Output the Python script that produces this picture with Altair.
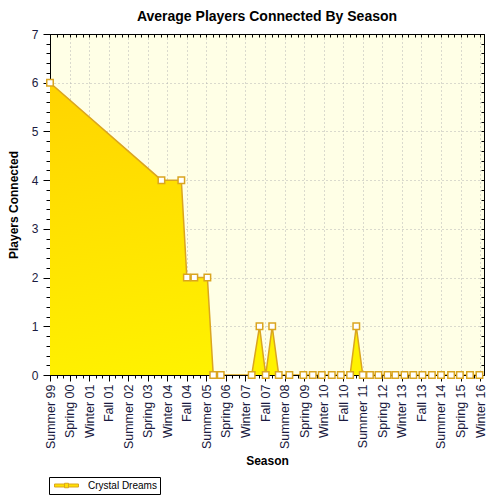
import altair as alt
import pandas as pd

# ---- data ----
season_labels = ["Summer 99", "Spring 00", "Winter 01", "Fall 01", "Summer 02", "Spring 03",
                 "Winter 04", "Fall 04", "Summer 05", "Spring 06", "Winter 07", "Fall 07",
                 "Summer 08", "Spring 09", "Winter 10", "Fall 10", "Summer 11", "Spring 12",
                 "Winter 13", "Fall 13", "Summer 14", "Spring 15", "Winter 16"]
# position of each sample, in seasons since Summer 99
season_pos = [0, 17.1, 20.15, 21.0, 22.15, 24.15, 25.05, 26.2, 30.95, 32.15, 33.1, 34.1, 35.1,
              36.73, 38.88, 40.32, 41.7, 43.24, 44.62, 46.05, 47.0, 48.0, 49.1, 50.4, 51.8,
              53.0, 54.4, 55.75, 57.15, 58.6, 60.0, 61.55, 62.9, 64.45, 65.9]
players = [6, 4, 4, 2, 2, 2, 0, 0, 0, 1, 0, 1, 0,
           0, 0, 0, 0, 0, 0, 0, 1, 0, 0, 0, 0,
           0, 0, 0, 0, 0, 0, 0, 0, 0, 0]
series_name = "Crystal Dreams"

df = pd.DataFrame({"season": season_pos, "players": players, "series": series_name})

label_array = "[" + ",".join("'" + s + "'" for s in season_labels) + "]"
x_label_expr = "datum.value % 3 === 0 ? " + label_array + "[datum.value / 3] : ''"
x_ticks = list(range(0, 3 * len(season_labels) - 2))
y_ticks = [round(i * 0.2, 1) for i in range(0, 36)]
Y_MAJOR = "abs(datum.value - round(datum.value)) < 0.001"
X_MAJOR = "datum.value % 3 === 0"

GOLD_LINE = "#DAA520"
LABEL_COLOR = "#1a1a40"
FONT = "Liberation Sans"
GRID = "#b4b4b4"
x_scale = alt.Scale(domain=[0, 66.6], nice=False, zero=False)
y_scale = alt.Scale(domain=[0, 7], nice=False)

x_enc = alt.X(
    "season:Q", scale=x_scale,
    axis=alt.Axis(
        title="Season", values=x_ticks, tickCount=500, labelExpr=x_label_expr, labelAngle=270,
        labelAlign="right", labelBaseline="middle", labelOverlap=False, labelFlush=False,
        labelPadding=3, labelFontSize=12.5, labelFont=FONT, labelColor=LABEL_COLOR,
        titleFont=FONT, titleFontSize=12, titleFontWeight="bold", titleColor="black",
        titlePadding=7,
        tickSize={"condition": {"test": X_MAJOR, "value": 6}, "value": 3},
        gridOpacity={"condition": {"test": X_MAJOR, "value": 1}, "value": 0},
        grid=True, gridColor=GRID, gridDash=[1, 3],
        domainColor="black", tickColor="black",
    ),
)
y_enc = alt.Y(
    "players:Q", scale=y_scale,
    axis=alt.Axis(
        title="Players Connected", values=y_ticks, tickCount=500,
        labelExpr=Y_MAJOR + " ? toString(round(datum.value)) : ''", labelOverlap=False,
        labelFontSize=12, labelFont=FONT, labelColor=LABEL_COLOR, labelPadding=5,
        titleFont=FONT, titleFontSize=12, titleFontWeight="bold", titleColor="black",
        titlePadding=11,
        tickSize={"condition": {"test": Y_MAJOR, "value": 7}, "value": 4},
        gridOpacity={"condition": {"test": Y_MAJOR, "value": 1}, "value": 0},
        grid=True, gridColor=GRID, gridDash=[1, 3],
        domainColor="black", tickColor="black",
    ),
)

area_fill = {
    "gradient": "linear", "x1": 0, "y1": 0, "x2": 0.3, "y2": 1,
    "stops": [{"offset": 0, "color": "#FFD400"}, {"offset": 1, "color": "#FFF200"}],
}

base = alt.Chart(df)
area = base.mark_area(color=area_fill, opacity=1, clip=True).encode(x=x_enc, y=y_enc)
line = base.mark_line(strokeWidth=1.5, clip=True).encode(
    x=alt.X("season:Q", scale=x_scale, axis=None), y=alt.Y("players:Q", scale=y_scale, axis=None),
    color=alt.Color(
        "series:N", scale=alt.Scale(range=[GOLD_LINE]),
        legend=alt.Legend(
            title=None, orient="none", legendX=-1, legendY=443,
            strokeColor="black", padding=3, fillColor="white",
            symbolType="M-2.4,-0.3H-0.4V0.3H-2.4Z M0.4,-0.3H2.4V0.3H0.4Z M-0.4,-0.45H0.4V0.45H-0.4Z",
            symbolSize=100, symbolFillColor="#FFE000", symbolStrokeColor=GOLD_LINE,
            symbolStrokeWidth=1, symbolOffset=9, labelOffset=16,
            labelFont=FONT, labelFontSize=10, labelColor="black",
        ),
    ),
)
points = base.mark_point(shape="square", filled=True, fill="white", stroke=GOLD_LINE,
                         strokeWidth=1.5, size=42, opacity=1).encode(
    x=alt.X("season:Q", scale=x_scale, axis=None), y=alt.Y("players:Q", scale=y_scale, axis=None))

# mirror axes on top and right: inward ticks only
mirror = base.mark_point(opacity=0).encode(
    x=alt.X("season:Q", scale=x_scale, axis=alt.Axis(
        orient="top", title=None, labels=False, grid=False, values=x_ticks, tickCount=500,
        tickSize={"expr": "-3"}, tickColor="black", domainColor="black")),
    y=alt.Y("players:Q", scale=y_scale, axis=alt.Axis(
        orient="right", title=None, labels=False, grid=False, values=y_ticks, tickCount=500,
        tickSize={"expr": "-3"}, tickColor="black", domainColor="black")),
)

chart = (
    alt.layer(area, line, points, mirror)
    .resolve_axis(x="independent", y="independent")
    .properties(
        width=434, height=341,
        title=alt.Title("Average Players Connected By Season", font=FONT, fontSize=14,
                        fontWeight="bold", color="black", anchor="middle", offset=4),
        autosize=alt.AutoSizeParams(type="none"),
        padding={"left": 50, "top": 34, "right": 16, "bottom": 125},
        background="white",
    )
    .configure_view(fill="#FFFFE6", stroke="black", strokeWidth=1)
)

chart.save("out.html", embed_options={"renderer": "svg", "actions": False})
